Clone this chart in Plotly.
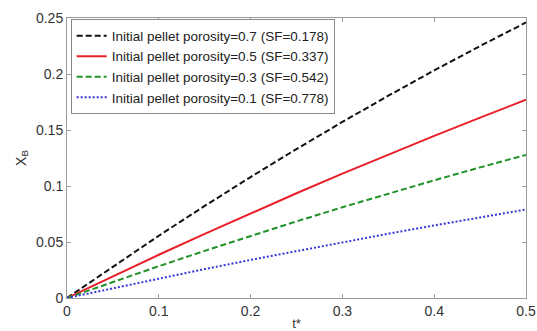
import plotly.graph_objects as go

# Dimensionless time t*
t_star = [0.0, 0.05, 0.10, 0.15, 0.20, 0.25, 0.30, 0.35, 0.40, 0.45, 0.50]

# Conversion X_B for each initial pellet porosity
xb_por07 = [0.0, 0.0282, 0.0556, 0.0822, 0.1080, 0.1330, 0.1572, 0.1806, 0.2032, 0.2250, 0.2460]
xb_por05 = [0.0, 0.0195, 0.0386, 0.0573, 0.0756, 0.0935, 0.1110, 0.1281, 0.1448, 0.1611, 0.1770]
xb_por03 = [0.0, 0.0144, 0.0284, 0.0421, 0.0554, 0.0684, 0.0810, 0.0932, 0.1051, 0.1166, 0.1278]
xb_por01 = [0.0, 0.0088, 0.0174, 0.0258, 0.0340, 0.0420, 0.0498, 0.0574, 0.0648, 0.0720, 0.0790]

names = [
    "Initial pellet porosity=0.7 (SF=0.178)",
    "Initial pellet porosity=0.5 (SF=0.337)",
    "Initial pellet porosity=0.3 (SF=0.542)",
    "Initial pellet porosity=0.1 (SF=0.778)",
]
series = [xb_por07, xb_por05, xb_por03, xb_por01]
colors = ["#111111", "#e8202a", "#22922a", "#3535d8"]
dashes = ["6px,3px", "solid", "6px,3px", "2px,2px"]

x_ticks = [0, 0.1, 0.2, 0.3, 0.4, 0.5]
y_ticks = [0, 0.05, 0.1, 0.15, 0.2, 0.25]

fig = go.Figure()
for name, ys, c, d in zip(names, series, colors, dashes):
    fig.add_trace(go.Scatter(
        x=t_star, y=ys, mode="lines", name=name,
        line=dict(color=c, width=2, dash=d),
    ))

axis_common = dict(
    showgrid=False, zeroline=False, automargin=False,
    showline=True, linecolor="#9a9a9a", linewidth=1, mirror="ticks",
    ticks="inside", ticklen=4, tickcolor="#9a9a9a",
    tickfont=dict(family="Liberation Sans, Arial, sans-serif", size=14, color="#333333"),
)

fig.update_layout(
    width=537, height=331,
    margin=dict(l=67, r=11, t=18, b=33),
    paper_bgcolor="white", plot_bgcolor="white",
    font=dict(family="Liberation Sans, Arial, sans-serif", color="#333333"),
    xaxis=dict(
        range=[0, 0.5], tickvals=x_ticks, ticktext=[f"{v:g}" for v in x_ticks],
        title=dict(text="t*", font=dict(size=13), standoff=2),
        **axis_common,
    ),
    yaxis=dict(
        range=[0, 0.25], tickvals=y_ticks, ticktext=[f"{v:g}" for v in y_ticks],
        title=dict(text="X<sub>B</sub>", font=dict(size=14), standoff=6),
        **axis_common,
    ),
    legend=dict(
        x=0.008, y=0.995, xanchor="left", yanchor="top",
        bgcolor="white", bordercolor="#8a8a8a", borderwidth=1,
        font=dict(size=13.5, color="#222222"),
        itemwidth=30, tracegroupgap=0,
    ),
    showlegend=True,
)

fig.write_html("out.html")
